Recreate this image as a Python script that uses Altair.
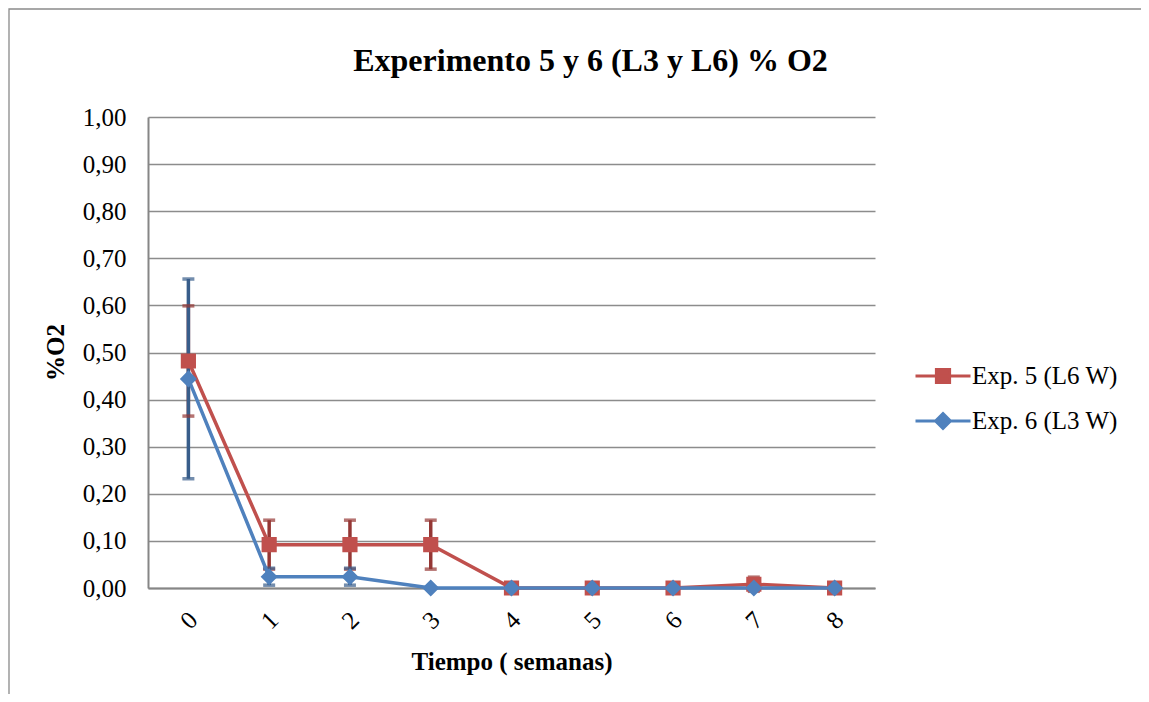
import altair as alt
import pandas as pd

weeks = ["0", "1", "2", "3", "4", "5", "6", "7", "8"]
series = ["Exp. 5 (L6 W)", "Exp. 6 (L3 W)"]
exp5 = [0.482, 0.092, 0.092, 0.092, 0.0, 0.0, 0.0, 0.008, 0.0]
err5 = [0.117, 0.052, 0.052, 0.052, 0.0, 0.0, 0.0, 0.015, 0.0]
exp6 = [0.444, 0.024, 0.024, 0.0, 0.0, 0.0, 0.0, 0.0, 0.0]
err6 = [0.212, 0.018, 0.018, 0.0, 0.0, 0.0, 0.0, 0.0, 0.0]
y_ticks = [0.0, 0.1, 0.2, 0.3, 0.4, 0.5, 0.6, 0.7, 0.8, 0.9, 1.0]

line_colors = ["#C0504D", "#4F81BD"]
err_colors = ["#953735", "#385D8A"]

rows = []
for s, vals, errs, ec in [(series[0], exp5, err5, err_colors[0]), (series[1], exp6, err6, err_colors[1])]:
    for w, v, e in zip(weeks, vals, errs):
        rows.append({"semana": w, "serie": s, "valor": v, "err": e,
                     "lo": v - e, "hi": v + e, "ecolor": ec})
df = pd.DataFrame(rows)
df_err = df[df["err"] > 0]
caps = pd.concat([
    df_err.assign(cap=df_err["lo"]),
    df_err.assign(cap=df_err["hi"]),
])

FONT = "Liberation Serif"

square_path = "M-1,0H1M-0.24,-0.24H0.24V0.24H-0.24Z"
diamond_path = "M-1,0H1M0,-0.27L0.27,0L0,0.27L-0.27,0Z"

x_enc = alt.X("semana:N", sort=weeks,
              scale=alt.Scale(type="point", padding=0.5),
              axis=alt.Axis(title="Tiempo ( semanas)", labelAngle=315, labelAlign="center",
                            labelBaseline="middle", labelPadding=32, ticks=False, tickSize=0,
                            grid=False, titleY=73, titleBaseline="middle",
                            titleFontSize=25, titleFontWeight="bold"))


def y_enc(field):
    return alt.Y(field, type="quantitative", scale=alt.Scale(domain=[0, 1], nice=False),
                 axis=alt.Axis(title="%O2", values=y_ticks, labelOverlap=False,
                               labelExpr="replace(format(datum.value, '.2f'), '.', ',')",
                               labelPadding=22, ticks=False, tickSize=0,
                               titleX=-93, titleY=235, titleAngle=270, titleAlign="center",
                               titleBaseline="middle", titleFontSize=25, titleFontWeight="bold"))


color_scale = alt.Scale(domain=series, range=line_colors)
shape_scale = alt.Scale(domain=series, range=[square_path, diamond_path])

legend = alt.Legend(title=None, orient="none", legendX=766, legendY=230,
                    symbolSize=3025, labelFont=FONT, labelFontSize=25, labelColor="black",
                    labelOffset=0, rowPadding=3, symbolStrokeWidth=3)

frame = alt.Chart(alt.Data(values=[{}])).mark_rect(
    fillOpacity=0, stroke="#8a8a8a", strokeWidth=1.3
).encode(x=alt.value(-139), x2=alt.value(1100), y=alt.value(-108), y2=alt.value(700))

rules = alt.Chart(df_err).mark_rule(strokeWidth=3.5).encode(
    x=x_enc, y=y_enc("lo"), y2="hi:Q", color=alt.Color("ecolor:N", scale=None))
ticks = alt.Chart(caps).mark_tick(orient="horizontal", size=12, thickness=3.5).encode(
    x=x_enc, y=y_enc("cap"), color=alt.Color("ecolor:N", scale=None))

lines = alt.Chart(df).mark_line(strokeWidth=3.5).encode(
    x=x_enc, y=y_enc("valor"),
    stroke=alt.Stroke("serie:N", scale=color_scale, sort=series, legend=legend),
    detail="serie:N")
points = alt.Chart(df).mark_point(filled=True, size=4000, opacity=1, strokeWidth=0).encode(
    x=x_enc, y=y_enc("valor"),
    fill=alt.Fill("serie:N", scale=color_scale, sort=series, legend=legend),
    stroke=alt.Stroke("serie:N", scale=color_scale, sort=series, legend=legend),
    shape=alt.Shape("serie:N", scale=shape_scale, sort=series, legend=legend))

chart = alt.layer(frame, rules, ticks, lines, points).properties(
    width=727, height=471,
    autosize=alt.AutoSizeParams(type="none"),
    padding={"left": 140, "top": 109, "right": 266, "bottom": 106},
    title=alt.TitleParams("Experimento 5 y 6 (L3 y L6) % O2", font=FONT, fontSize=32,
                          fontWeight="bold", color="black", anchor="middle", frame="group",
                          dx=79, offset=-70),
    background="white",
).configure_view(stroke=None).configure_axis(
    labelFont=FONT, labelFontSize=25, labelColor="black", titleFont=FONT, titleColor="black",
    domainColor="#868686", domainWidth=2, gridColor="#8c8c8c", gridWidth=1.3,
)

chart.save("out.html", embed_options={"renderer": "svg", "actions": False})
